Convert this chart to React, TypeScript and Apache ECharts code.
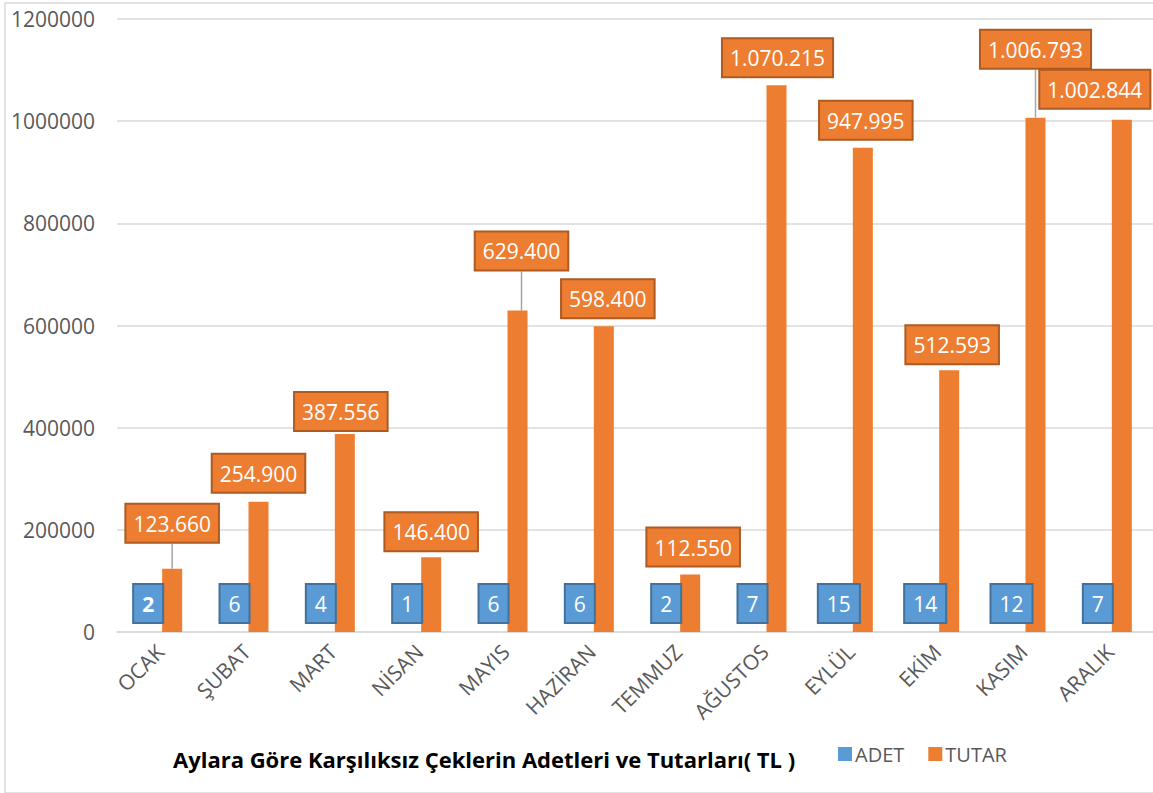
import React, { useEffect, useRef } from "react";
import * as echarts from "echarts";

const months = ["OCAK", "ŞUBAT", "MART", "NİSAN", "MAYIS", "HAZİRAN", "TEMMUZ", "AĞUSTOS", "EYLÜL", "EKİM", "KASIM", "ARALIK"];
const adet = [2, 6, 4, 1, 6, 6, 2, 7, 15, 14, 12, 7];
const tutar = [123660, 254900, 387556, 146400, 629400, 598400, 112550, 1070215, 947995, 512593, 1006793, 1002844];
const titleText = "Aylara Göre Karşılıksız Çeklerin Adetleri ve Tutarları( TL )";

// label placement tweaks (px) mimicking the manually moved labels
const tutarLabelNudge: [number, number][] = [
  [0, -18], [0, -1], [-4, 5], [0, 2], [4, -32], [4, 0],
  [3, 0], [1, 0], [3, 0], [3, 2], [0, -41], [-27, -3],
];
const tutarLeader = [true, false, false, false, true, false, false, false, false, false, true, false];

const fmtTR = (v: number) => String(Math.round(v)).replace(/\B(?=(\d{3})+(?!\d))/g, ".");

const FONT = "'Open Sans', 'Noto Sans', sans-serif";

export default function App() {
  const ref = useRef<HTMLDivElement>(null);
  useEffect(() => {
    if (!ref.current) return;
    const chart = echarts.init(ref.current, null, { renderer: "svg" });
    chart.setOption({
      animation: false,
      textStyle: { fontFamily: FONT },
      grid: { left: 117, right: 0, top: 19, bottom: 161, containLabel: false },
      title: {
        text: titleText,
        left: 168,
        top: 743,
        textStyle: { fontFamily: FONT, fontSize: 22, fontWeight: "bold", color: "#000" },
      },
      legend: {
        left: 833,
        top: 739,
        icon: "rect",
        itemWidth: 14,
        itemHeight: 14,
        itemGap: 24,
        itemStyle: {},
        textStyle: { fontFamily: FONT, fontSize: 20, color: "#595959", padding: [0, 0, 0, -2] },
        data: ["ADET", "TUTAR"],
      },
      graphic: [
        {
          type: "rect",
          shape: { x: 5, y: 3, width: 1200, height: 790 },
          style: { fill: "none", stroke: "#d9d9d9", lineWidth: 1.5 },
          silent: true,
        },
      ],
      xAxis: {
        type: "category",
        data: months,
        axisLine: { lineStyle: { color: "#d9d9d9", width: 1.5 } },
        axisTick: { show: false },
        axisLabel: { rotate: 45, fontSize: 21, color: "#595959", margin: 16, fontFamily: FONT },
      },
      yAxis: {
        type: "value",
        min: 0,
        max: 1200000,
        interval: 200000,
        axisLabel: { fontSize: 21, color: "#595959", margin: 22, fontFamily: FONT, formatter: (v: number) => String(v) },
        splitLine: { lineStyle: { color: "#d9d9d9", width: 1.5 } },
        axisLine: { show: false },
      },
      series: [
        {
          name: "ADET",
          type: "bar",
          barWidth: 20,
          barGap: "20%",
          itemStyle: { color: "#5b9bd5" },
          data: adet.map((v, i) => ({
            value: v,
            label: i === 0 ? { fontWeight: "bold" } : undefined,
          })),
          label: {
            show: true,
            position: "top",
            distance: 10,
            color: "#fff",
            fontSize: 21,
            lineHeight: 26,
            fontFamily: FONT,
            backgroundColor: "#5b9bd5",
            borderColor: "#41719c",
            borderWidth: 2,
            padding: [6, 8, 5, 8],
          },
        },
        {
          name: "TUTAR",
          type: "bar",
          barWidth: 20,
          itemStyle: { color: "#ed7d31" },
          data: tutar.map((v, i) => ({
            value: v,
            labelLine: { show: tutarLeader[i] },
          })),
          label: {
            show: true,
            position: "top",
            distance: 9,
            color: "#fff",
            fontSize: 21,
            lineHeight: 26,
            fontFamily: FONT,
            backgroundColor: "#ed7d31",
            borderColor: "#ae5a21",
            borderWidth: 2,
            padding: [6, 7, 5, 7],
            formatter: (p: any) => fmtTR(p.value),
          },
          labelLayout: (p: any) => ({ dx: tutarLabelNudge[p.dataIndex][0], dy: tutarLabelNudge[p.dataIndex][1] }),
          labelLine: { show: false, lineStyle: { color: "#a5a5a5", width: 1.5 } },
        },
      ],
    });
    return () => chart.dispose();
  }, []);
  return <div ref={ref} style={{ position: "absolute", left: 0, top: 0, width: 1153, height: 793 }} />;
}
